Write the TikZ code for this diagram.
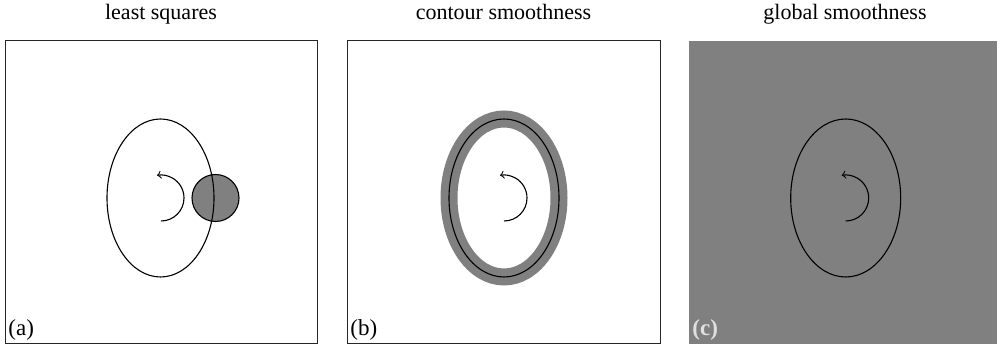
\documentclass[tikz,border=0pt]{standalone}
\usepackage{fontspec}
\setmainfont{Liberation Serif}
\usetikzlibrary{positioning}

\tikzset{
  panel/.style={draw=black!85,line width=0.5pt},
  curve/.style={draw=black,line width=0.55pt},
  turn/.style={draw=black,line width=0.55pt,->},
  title/.style={font=\fontsize{11}{13}\selectfont,anchor=base},
  tag/.style={font=\fontsize{11.5}{13}\selectfont,anchor=south west,inner sep=1.5pt}
}

\begin{document}
\begin{tikzpicture}[x=0.5pt,y=-0.5pt]
\useasboundingbox (0,0) rectangle (1002,356);

% panel (a)
\draw[panel,fill=white] (5,41) rectangle (317,344);
\draw[curve,fill=black!50] (215.5,198) circle [radius=11.75pt];
\draw[curve] (160.5,198) ellipse [x radius=26.75pt, y radius=39.5pt];
\draw[turn] (161,221) arc[start angle=-90,end angle=100,radius=11.5pt];
\node[title] (ls) at (161,20) {least squares};
\node[tag] (la) at (5,344) {(a)};

% panel (b)
\draw[panel,fill=white] (347,41) rectangle (660,344);
\draw[draw=black!50,line width=8.5pt] (504,198) ellipse [x radius=27.5pt, y radius=39.5pt];
\draw[curve] (504,198) ellipse [x radius=27.5pt, y radius=39.5pt];
\draw[turn] (504,221) arc[start angle=-90,end angle=100,radius=11.5pt];
\node[title] (cs) at (503.5,20) {contour smoothness};
\node[tag] (lb) at (347,344) {(b)};

% panel (c)
\fill[black!50] (689,41) rectangle (997,344);
\draw[curve] (845.7,198) ellipse [x radius=27.5pt, y radius=39.5pt];
\draw[turn] (845.7,221) arc[start angle=-90,end angle=100,radius=11.5pt];
\node[title] (gs) at (845,20) {global smoothness};
\node[tag,text=black!12,font=\fontsize{11.5}{13}\selectfont\bfseries] (lc) at (689,344) {(c)};

\end{tikzpicture}
\end{document}
